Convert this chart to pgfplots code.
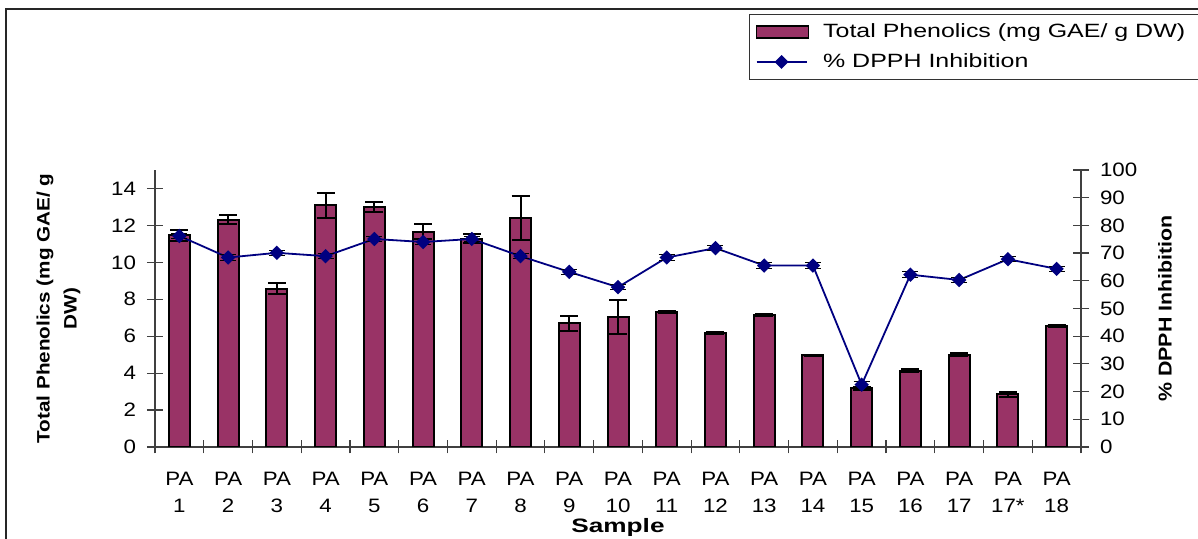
\documentclass[border=0pt]{standalone}
\usepackage{pgfplots}
\pgfplotsset{compat=1.18}
\usepackage{pgfplotstable}
\usepackage{fontspec}
\setmainfont{Liberation Sans}[FakeStretch=1.15]
\newfontfamily\legfont{Liberation Sans}[FakeStretch=1.3]
\newfontfamily\samplefont{Liberation Sans}[FakeStretch=1.35]
\definecolor{barc}{HTML}{993366}
\definecolor{navyc}{HTML}{000080}
\pgfplotsset{
  dpphlegend/.style={legend image code/.code={\draw[##1, mark repeat=2, mark phase=2] plot coordinates {(0pt,0pt) (12.5pt,0pt) (25pt,0pt)};}},
  barlegend/.style={legend image code/.code={\draw[fill=barc, draw=black, line width=0.6pt] (0pt,-3pt) rectangle (26pt,3pt);}},
}
\pgfplotstableread{
x y e d de
0 11.47 0.30 76.2 1.0
1 12.30 0.25 68.4 1.0
2 8.58 0.30 70.1 1.0
3 13.08 0.68 68.9 1.0
4 13.00 0.28 75.1 1.0
5 11.65 0.40 74.0 1.0
6 11.29 0.25 75.1 1.0
7 12.41 1.20 68.9 1.0
8 6.69 0.43 63.2 1.0
9 7.04 0.94 57.7 1.0
10 7.29 0.05 68.4 1.0
11 6.19 0.05 71.8 1.0
12 7.14 0.05 65.5 1.0
13 4.97 0.03 65.5 1.0
14 3.18 0.08 22.5 1.0
15 4.14 0.06 62.2 1.0
16 5.00 0.07 60.3 1.0
17 2.85 0.15 67.8 1.0
18 6.55 0.07 64.3 1.0
}\datatable
\begin{document}
\begin{tikzpicture}
\useasboundingbox (0pt,0pt) rectangle (599pt,269.5pt);
\draw[black!85, line width=0.7pt] (3pt,-15pt) -- (3pt,265pt) -- (620pt,265pt);
\begin{axis}[
  at={(77.5pt,46pt)}, anchor=south west,
  scale only axis, width=463pt, height=138.5pt,
  xmin=-0.5, xmax=18.5, ymin=0, ymax=15,
  axis x line*=bottom, axis y line*=left,
  axis line style={-, draw=black!75, line width=0.6pt},
  xtick={0,...,18},
  xticklabels={{PA\\1},{PA\\2},{PA\\3},{PA\\4},{PA\\5},{PA\\6},{PA\\7},{PA\\8},{PA\\9},{PA\\10},{PA\\11},{PA\\12},{PA\\13},{PA\\14},{PA\\15},{PA\\16},{PA\\17},{PA\\17*},{PA\\18}},
  major x tick style={draw=none},
  minor xtick={-0.5,0.5,...,18.5},
  ytick={0,2,...,14},
  tick align=center,
  major tick length=8pt, minor tick length=6.5pt,
  tick style={black!75, line width=0.6pt},
  /pgf/number format/assume math mode=true,
  tick label style={font=\fontsize{9.7}{13.5}\selectfont},
  xticklabel style={align=center, yshift=-5pt},
  yticklabel style={xshift=-2pt},
  ylabel={Total Phenolics (mg GAE/ g\\DW)},
  ylabel style={font=\bfseries\fontsize{9}{13.5}\selectfont, align=center, at={(axis description cs:-0.1042,0.5)}, anchor=center},
  xlabel={Sample},
  xlabel style={font=\samplefont\bfseries\fontsize{9.7}{11}\selectfont, at={(axis description cs:0.5,-0.29)}, anchor=center},
  legend style={at={(0.6415,1.5632)}, anchor=north west, draw=black!80, line width=0.6pt,
    font=\legfont\fontsize{9.6}{11}\selectfont, inner xsep=3pt, inner ysep=2.5pt, row sep=2.5pt,
    column sep=5pt, cells={anchor=west}},
  legend cell align=left,
]
\addplot[ybar, bar width=10.5pt, fill=barc, draw=black, line width=1pt, barlegend,
  error bars/.cd, y dir=both, y explicit,
  error bar style={black, line width=1pt},
  error mark options={rotate=90, mark size=4.5pt, line width=1pt, black}]
  table[x=x, y=y, y error=e]{\datatable};
\addlegendentry{Total Phenolics (mg GAE/ g DW)\kern16pt}
\addlegendimage{navyc, line width=0.9pt, mark=square*, mark size=2pt, mark options={rotate=45, solid}, dpphlegend}
\addlegendentry{\% DPPH Inhibition}
\end{axis}
\begin{axis}[
  at={(77.5pt,46pt)}, anchor=south west,
  scale only axis, width=463pt, height=138.5pt,
  xmin=-0.5, xmax=18.5, ymin=0, ymax=100,
  axis y line*=right, axis x line=none,
  axis line style={-, draw=black!75, line width=0.6pt},
  ytick={0,10,...,100},
  tick align=center, major tick length=8pt,
  tick style={black!75, line width=0.6pt},
  /pgf/number format/assume math mode=true,
  tick label style={font=\fontsize{9.7}{13.5}\selectfont},
  yticklabel style={xshift=2pt},
  ylabel={\% DPPH Inhibition},
  ylabel style={font=\bfseries\fontsize{9.3}{11}\selectfont, at={(axis description cs:1.0907,0.5)}, anchor=center},
]
\addplot[navyc, line width=0.9pt, mark=square*, mark size=2.1pt, mark options={rotate=45, solid, fill=navyc},
  error bars/.cd, y dir=both, y explicit,
  error bar style={black, line width=0.5pt},
  error mark options={rotate=90, mark size=4pt, line width=0.5pt, black}]
  table[x=x, y=d, y error=de]{\datatable};
\end{axis}
\end{tikzpicture}
\end{document}
